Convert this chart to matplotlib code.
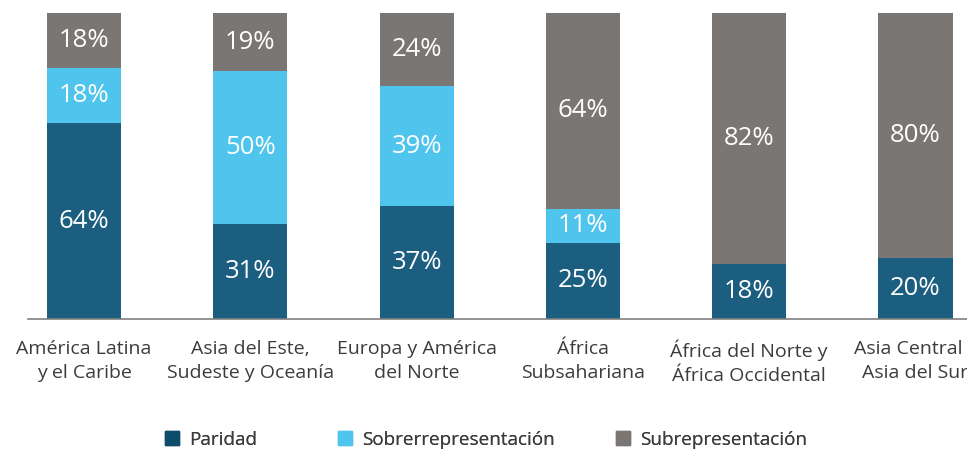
import numpy as np
import matplotlib
matplotlib.use("Agg")
import matplotlib.pyplot as plt

plt.rcParams['font.family'] = ['Open Sans', 'DejaVu Sans']

# datos (porcentajes)
regiones = ["América Latina\ny el Caribe", "Asia del Este,\nSudeste y Oceanía",
            "Europa y América\ndel Norte", "África\nSubsahariana",
            "África del Norte y\nÁfrica Occidental", "Asia Central y\nAsia del Sur"]
paridad = [64, 31, 37, 25, 18, 20]
sobre = [18, 50, 39, 11, 0, 0]
sub = [18, 19, 24, 64, 82, 80]
series = ["Paridad", "Sobrerrepresentación", "Subrepresentación"]

c_par = "#1b5e7f"
c_sobre = "#4fc4ec"
c_sub = "#7a7673"

W, H = 967, 451
fig = plt.figure(figsize=(W/100, H/100), dpi=100)
# ejes: de x=28 px hasta mas alla del borde derecho, base en y=319, 100% en y=13
ax = fig.add_axes([28/W, (H-319)/H, 1.0, 306/H])

x = np.arange(len(regiones))
ancho = 0.445
paso = 166.3  # px por categoria
ax.set_xlim(-56/paso, -56/paso + W/paso)
ax.set_ylim(0, 100)

b1 = ax.bar(x, paridad, ancho, color=c_par)
b2 = ax.bar(x, sobre, ancho, bottom=paridad, color=c_sobre)
base3 = np.array(paridad) + np.array(sobre)
b3 = ax.bar(x, sub, ancho, bottom=base3, color=c_sub)

for barras in (b1, b2, b3):
    for r in barras:
        h = r.get_height()
        if h <= 0:
            continue
        ax.text(r.get_x() + r.get_width()/2, r.get_y() + h/2, f"{h:.0f}%",
                ha="center", va="center", color="white", fontsize=18.5)

for s in ["top", "right", "left"]:
    ax.spines[s].set_visible(False)
ax.spines["bottom"].set_color("#808080")
ax.spines["bottom"].set_linewidth(1.2)
ax.set_yticks([])
ax.set_xticks(x)
ax.set_xticklabels(regiones, fontsize=14, color="#3c3c3c", linespacing=1.42)
ax.tick_params(axis="x", length=0, pad=15)

# leyenda: tres entradas colocadas por separado (espaciado desigual en el original)
colores_leyenda = ["#0e4c6c", c_sobre, c_sub]
pos_leyenda = [165, 338, 616]
for nombre, col, px in zip(series, colores_leyenda, pos_leyenda):
    h = plt.Rectangle((0, 0), 1, 1, color=col)
    leg = fig.legend([h], [nombre], loc="center left",
                     bbox_to_anchor=(px/W, (H-440)/H), frameon=False,
                     fontsize=13.6, handlelength=0.75, handleheight=0.75,
                     handletextpad=0.55, borderpad=0, borderaxespad=0,
                     labelcolor="#3c3c3c")
    fig.add_artist(leg)

fig.savefig("out.png", dpi=100)
